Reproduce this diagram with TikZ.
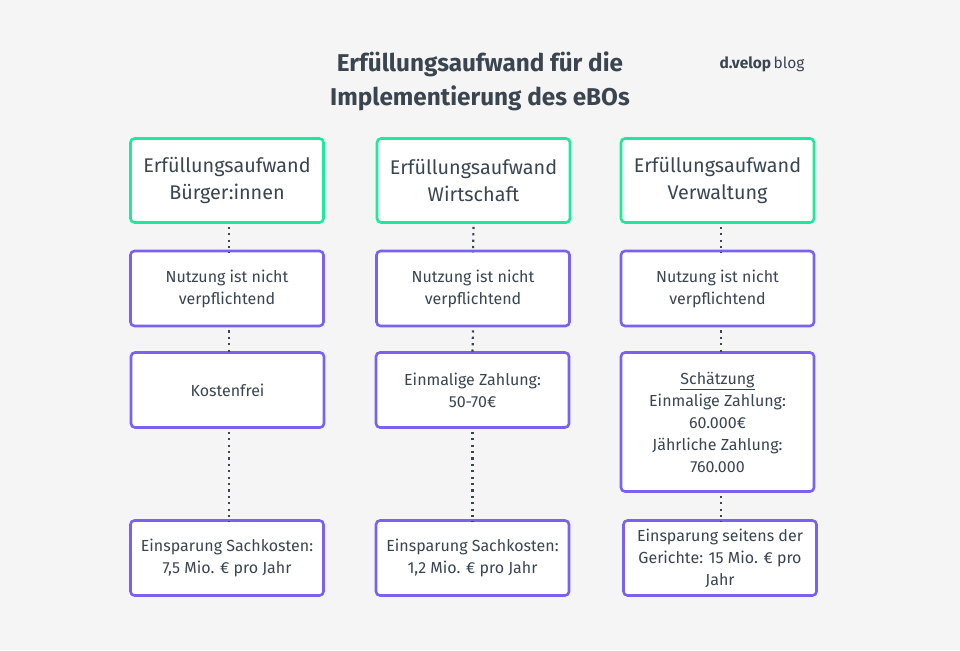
\documentclass[tikz,border=0pt]{standalone}
\usepackage{fontspec}
\setmainfont{Fira Sans}
\definecolor{bgc}{HTML}{F5F5F5}
\definecolor{grn}{HTML}{1EE89E}
\definecolor{pur}{HTML}{7B61F0}
\definecolor{txt}{HTML}{3A4550}
\begin{document}
\begin{tikzpicture}[x=1pt,y=-1pt,
  base/.style={draw, fill=white, rounded corners=4pt, line width=2.6pt, align=center, text=txt, inner sep=0pt},
  headbox/.style={base, draw=grn, minimum width=193pt, minimum height=84pt, font=\fontsize{19.8}{27}\selectfont},
  itembox/.style={base, draw=pur, minimum width=193pt, minimum height=75pt, font=\fontsize{16}{22}\selectfont},
  dots/.style={line width=2.2pt, dash pattern=on 2.2pt off 4.2pt, draw=txt}]
\fill[bgc] (0,0) rectangle (960,650);
\useasboundingbox (0,0) rectangle (960,650);
\node[text=txt, font=\fontsize{24.3}{34}\selectfont\bfseries, align=center] (title) at (480,81) {Erfüllungsaufwand für die\\Implementierung des eBOs};
\node[text=txt, font=\fontsize{15.5}{16}\selectfont, anchor=west] (logo) at (716,64) {\textbf{d.velop}\,blog};
% column 1
\node[headbox] (h1) at (227,180.5) {Erfüllungsaufwand\\Bürger:innen};
\node[itembox] (a1) at (227,288.5) {Nutzung ist nicht\\verpflichtend};
\node[itembox] (b1) at (227.5,390) {Kostenfrei};
\node[itembox] (c1) at (227,558) {Einsparung Sachkosten:\\7,5 Mio. € pro Jahr};
% column 2
\node[headbox] (h2) at (473.5,180.5) {Erfüllungsaufwand\\Wirtschaft};
\node[itembox] (a2) at (473,288.5) {Nutzung ist nicht\\verpflichtend};
\node[itembox] (b2) at (472.5,390) {Einmalige Zahlung:\\50-70€};
\node[itembox] (c2) at (472.5,558) {Einsparung Sachkosten:\\1,2 Mio. € pro Jahr};
% column 3
\node[headbox] (h3) at (717.5,180.5) {Erfüllungsaufwand\\Verwaltung};
\node[itembox] (a3) at (717.5,288.5) {Nutzung ist nicht\\verpflichtend};
\node[itembox, minimum height=139pt] (b3) at (717.5,422) {\underline{Schätzung}\\Einmalige Zahlung:\\60.000€\\Jährliche Zahlung:\\760.000};
\node[itembox] (c3) at (720,558) {Einsparung seitens der\\Gerichte: 15 Mio. € pro\\Jahr};
% dotted connectors
\draw[dots] ([xshift=2pt]h1.south) ++(0,3) -- ([xshift=2pt,yshift=-3pt]a1.north);
\draw[dots] ([xshift=2pt]a1.south) ++(0,3) -- ([xshift=1.5pt,yshift=-3pt]b1.north);
\draw[dots] ([xshift=1.5pt]b1.south) ++(0,3) -- ([xshift=2pt,yshift=-3pt]c1.north);
\draw[dots] (h2.south) ++(0,3) -- ([yshift=-3pt]a2.north);
\draw[dots] (a2.south) ++(0,3) -- ([yshift=-3pt]b2.north);
\draw[dots] (b2.south) ++(0,3) -- ([yshift=-3pt]c2.north);
\draw[dots] ([xshift=3.5pt]h3.south) ++(0,3) -- ([xshift=3.5pt,yshift=-3pt]a3.north);
\draw[dots] ([xshift=3.5pt]a3.south) ++(0,3) -- ([xshift=3.5pt,yshift=-3pt]b3.north);
\draw[dots] ([xshift=3.5pt]b3.south) ++(0,3) -- ([xshift=1pt,yshift=-3pt]c3.north);
\end{tikzpicture}
\end{document}
